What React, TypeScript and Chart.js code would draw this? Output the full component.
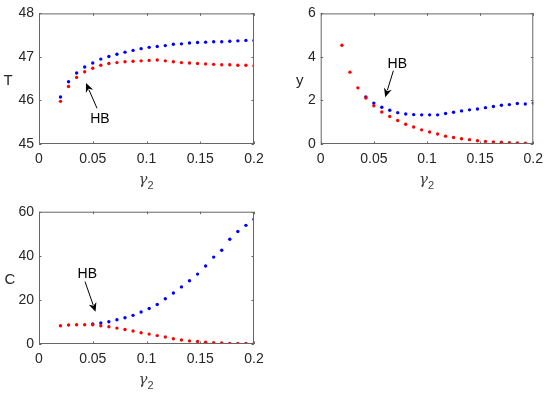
import React, { useEffect, useRef } from "react";
import { Chart, registerables } from "chart.js";

Chart.register(...registerables);

// ---- data ----
const gamma2 = [
  0.02, 0.0275, 0.035, 0.0425, 0.05, 0.0575, 0.065, 0.0725, 0.08, 0.0875,
  0.095, 0.1025, 0.11, 0.1175, 0.125, 0.1325, 0.14, 0.1475, 0.155, 0.1625,
  0.17, 0.1775, 0.185, 0.1925, 0.2,
];
const xTicks = [0, 0.05, 0.1, 0.15, 0.2];
const xTickLabels = ["0", "0.05", "0.1", "0.15", "0.2"];

const T_blue = [
  46.08, 46.43, 46.63, 46.77, 46.86, 46.95, 47.01, 47.06, 47.11, 47.15,
  47.19, 47.22, 47.24, 47.26, 47.29, 47.3, 47.32, 47.33, 47.34, 47.35,
  47.35, 47.36, 47.37, 47.38, 47.38,
];
const T_red = [
  45.98, 46.32, 46.53, 46.66, 46.74, 46.81, 46.85, 46.87, 46.89, 46.9,
  46.91, 46.92, 46.93, 46.91, 46.89, 46.87, 46.86, 46.85, 46.84, 46.83,
  46.82, 46.82, 46.81, 46.81, 46.8,
];
const T_ticks = [45, 46, 47, 48];

const y_blue = [
  null, null, null, 2.16, 1.88, 1.69, 1.55, 1.44, 1.38, 1.35,
  1.34, 1.34, 1.34, 1.4, 1.46, 1.52, 1.57, 1.61, 1.67, 1.72,
  1.78, 1.81, 1.86, 1.84, 1.88,
];
const y_red = [
  4.54, 3.3, 2.58, 2.11, 1.76, 1.47, 1.26, 1.08, 0.91, 0.78,
  0.65, 0.55, 0.46, 0.36, 0.3, 0.24, 0.2, 0.15, 0.12, 0.09,
  0.08, 0.06, 0.05, 0.04, 0.03,
];
const y_ticks = [0, 2, 4, 6];

const C_blue = [
  null, null, null, null, 9.05, 9.5, 10.1, 11.0, 11.9, 13.0,
  14.5, 16.1, 17.9, 20.5, 23.1, 25.9, 28.7, 31.7, 35.4, 39.4,
  42.5, 47.5, 51.0, 53.8, 56.6,
];
const C_red = [
  8.3, 8.6, 8.7, 8.7, 8.7, 8.3, 7.8, 7.2, 6.6, 5.9,
  5.1, 4.5, 3.8, 3.2, 2.4, 1.8, 1.4, 1.1, 0.8, 0.6,
  0.45, 0.3, 0.25, 0.2, 0.15,
];
const C_ticks = [0, 20, 40, 60];

const FONT = '"Liberation Sans", Arial, Helvetica, sans-serif';
const FRAME = "#666666";
const TEXT = "#262626";

type Geo = { left: number; top: number; w: number; h: number; aL: number; aT: number; aR: number; aB: number };
type Ann = { tx: number; ty: number; x0: number; y0: number; x1: number; y1: number };

type PanelCfg = {
  geo: Geo;
  yLabel: string;
  yLabelOffset: number;
  red: (number | null)[];
  blue: (number | null)[];
  yTicks: number[];
  ann: Ann;
};

const panels: PanelCfg[] = [
  {
    geo: { left: 0, top: 0, w: 275, h: 198, aL: 39, aT: 11, aR: 254, aB: 144 },
    yLabel: "T",
    yLabelOffset: 31,
    red: T_red,
    blue: T_blue,
    yTicks: T_ticks,
    ann: { tx: 0.0567, ty: 45.56, x0: 0.054, y0: 45.82, x1: 0.0437, y1: 46.4 },
  },
  {
    geo: { left: 275, top: 0, w: 275, h: 198, aL: 45.7, aT: 12.3, aR: 260, aB: 144 },
    yLabel: "y",
    yLabelOffset: 21,
    red: y_red,
    blue: y_blue,
    yTicks: y_ticks,
    ann: { tx: 0.0721, ty: 3.69, x0: 0.0684, y0: 3.37, x1: 0.0607, y1: 2.15 },
  },
  {
    geo: { left: 0, top: 198, w: 275, h: 198, aL: 39, aT: 13.7, aR: 254, aB: 146 },
    yLabel: "C",
    yLabelOffset: 29,
    red: C_red,
    blue: C_blue,
    yTicks: C_ticks,
    ann: { tx: 0.0449, ty: 31.7, x0: 0.0428, y0: 28.3, x1: 0.0526, y1: 14.6 },
  },
];

const matlabPlugin = {
  id: "matlab",
  afterDraw(chart: any, _args: any, opts: any) {
    const ctx = chart.ctx as CanvasRenderingContext2D;
    const { left, right, top, bottom } = chart.chartArea;
    const sx = chart.scales.x;
    const sy = chart.scales.y;
    ctx.save();
    // frame
    ctx.strokeStyle = FRAME;
    ctx.lineWidth = 1;
    ctx.strokeRect(left + 0.5, top + 0.5, right - left - 1, bottom - top - 1);
    // inward ticks
    const tl = 2.5;
    ctx.beginPath();
    for (const v of xTicks) {
      const px = Math.round(sx.getPixelForValue(v)) + 0.5;
      ctx.moveTo(px, bottom);
      ctx.lineTo(px, bottom - tl);
      ctx.moveTo(px, top);
      ctx.lineTo(px, top + tl);
    }
    for (const v of opts.yTicks as number[]) {
      const py = Math.round(sy.getPixelForValue(v)) + 0.5;
      ctx.moveTo(left, py);
      ctx.lineTo(left + tl, py);
      ctx.moveTo(right, py);
      ctx.lineTo(right - tl, py);
    }
    ctx.stroke();

    // y label (upright)
    ctx.fillStyle = TEXT;
    ctx.font = `15px ${FONT}`;
    ctx.textAlign = "center";
    ctx.textBaseline = "middle";
    ctx.fillText(opts.yLabel, left - opts.yLabelOffset, (top + bottom) / 2 + 2);

    // x label gamma_2
    const cx = (left + right) / 2;
    const ly = bottom + 37;
    ctx.fillStyle = "#444";
    ctx.font = `italic 15px "DejaVu Serif", serif`;
    ctx.textAlign = "right";
    ctx.textBaseline = "alphabetic";
    ctx.fillText("γ", cx + 1, ly + 3);
    ctx.font = `11px ${FONT}`;
    ctx.textAlign = "left";
    ctx.fillText("2", cx + 1, ly + 8);

    // annotation
    const a = opts.ann as Ann;
    ctx.fillStyle = "#000";
    ctx.strokeStyle = "#000";
    ctx.font = `14px ${FONT}`;
    ctx.textAlign = "center";
    ctx.textBaseline = "middle";
    ctx.fillText("HB", sx.getPixelForValue(a.tx), sy.getPixelForValue(a.ty));
    const x0 = sx.getPixelForValue(a.x0);
    const y0 = sy.getPixelForValue(a.y0);
    const x1 = sx.getPixelForValue(a.x1);
    const y1 = sy.getPixelForValue(a.y1);
    const ang = Math.atan2(y1 - y0, x1 - x0);
    const c = Math.cos(ang);
    const s = Math.sin(ang);
    const hl = 9;
    const hw = 4;
    ctx.lineWidth = 1;
    ctx.beginPath();
    ctx.moveTo(x0, y0);
    ctx.lineTo(x1 - hl * 0.8 * c, y1 - hl * 0.8 * s);
    ctx.stroke();
    ctx.beginPath();
    ctx.moveTo(x1, y1);
    ctx.lineTo(x1 - hl * c + hw * s, y1 - hl * s - hw * c);
    ctx.lineTo(x1 - hl * 0.7 * c, y1 - hl * 0.7 * s);
    ctx.lineTo(x1 - hl * c - hw * s, y1 - hl * s + hw * c);
    ctx.closePath();
    ctx.fill();
    ctx.restore();
  },
};

function toPoints(vals: (number | null)[]) {
  const out: { x: number; y: number }[] = [];
  vals.forEach((v, i) => {
    if (v !== null) out.push({ x: gamma2[i], y: v });
  });
  return out;
}

function Panel({ cfg }: { cfg: PanelCfg }) {
  const ref = useRef<HTMLCanvasElement | null>(null);
  useEffect(() => {
    const g = cfg.geo;
    const yT = cfg.yTicks;
    const chart = new Chart(ref.current as HTMLCanvasElement, {
      type: "scatter",
      data: {
        datasets: [
          {
            data: toPoints(cfg.red),
            backgroundColor: "#ff0000",
            borderWidth: 0,
            pointRadius: 1.7,
            showLine: false,
          },
          {
            data: toPoints(cfg.blue),
            backgroundColor: "#0000ff",
            borderWidth: 0,
            pointRadius: 1.7,
            showLine: false,
          },
        ],
      },
      options: {
        responsive: false,
        animation: false,
        events: [],
        layout: { padding: { left: 0, top: g.aT, right: g.w - g.aR, bottom: 0 } },
        plugins: {
          legend: { display: false },
          tooltip: { enabled: false },
          matlab: { yTicks: yT, yLabel: cfg.yLabel, yLabelOffset: cfg.yLabelOffset, ann: cfg.ann },
        } as any,
        scales: {
          x: {
            type: "linear",
            min: 0,
            max: 0.2,
            grid: { display: false, drawTicks: false },
            border: { display: false },
            afterBuildTicks: (s: any) => {
              s.ticks = xTicks.map((v) => ({ value: v }));
            },
            afterFit: (s: any) => {
              s.height = g.h - g.aB;
            },
            ticks: {
              autoSkip: false,
              maxRotation: 0,
              padding: 7,
              color: TEXT,
              font: { family: FONT, size: 14 },
              callback: (v: any) => {
                const i = xTicks.findIndex((t) => Math.abs(t - Number(v)) < 1e-9);
                return i >= 0 ? xTickLabels[i] : "";
              },
            },
          },
          y: {
            type: "linear",
            min: yT[0],
            max: yT[yT.length - 1],
            grid: { display: false, drawTicks: false },
            border: { display: false },
            afterBuildTicks: (s: any) => {
              s.ticks = yT.map((v) => ({ value: v }));
            },
            afterFit: (s: any) => {
              s.width = g.aL;
            },
            ticks: {
              autoSkip: false,
              padding: 5,
              color: TEXT,
              font: { family: FONT, size: 14 },
              callback: (v: any) => String(v),
            },
          },
        },
      },
      plugins: [matlabPlugin],
    });
    return () => chart.destroy();
  }, [cfg]);
  const g = cfg.geo;
  return (
    <canvas
      ref={ref}
      width={g.w}
      height={g.h}
      style={{ position: "absolute", left: g.left, top: g.top, width: g.w, height: g.h }}
    />
  );
}

export default function App() {
  return (
    <div style={{ position: "absolute", left: 0, top: 0, width: 550, height: 396, background: "#fff" }}>
      {panels.map((p, i) => (
        <Panel key={i} cfg={p} />
      ))}
    </div>
  );
}
